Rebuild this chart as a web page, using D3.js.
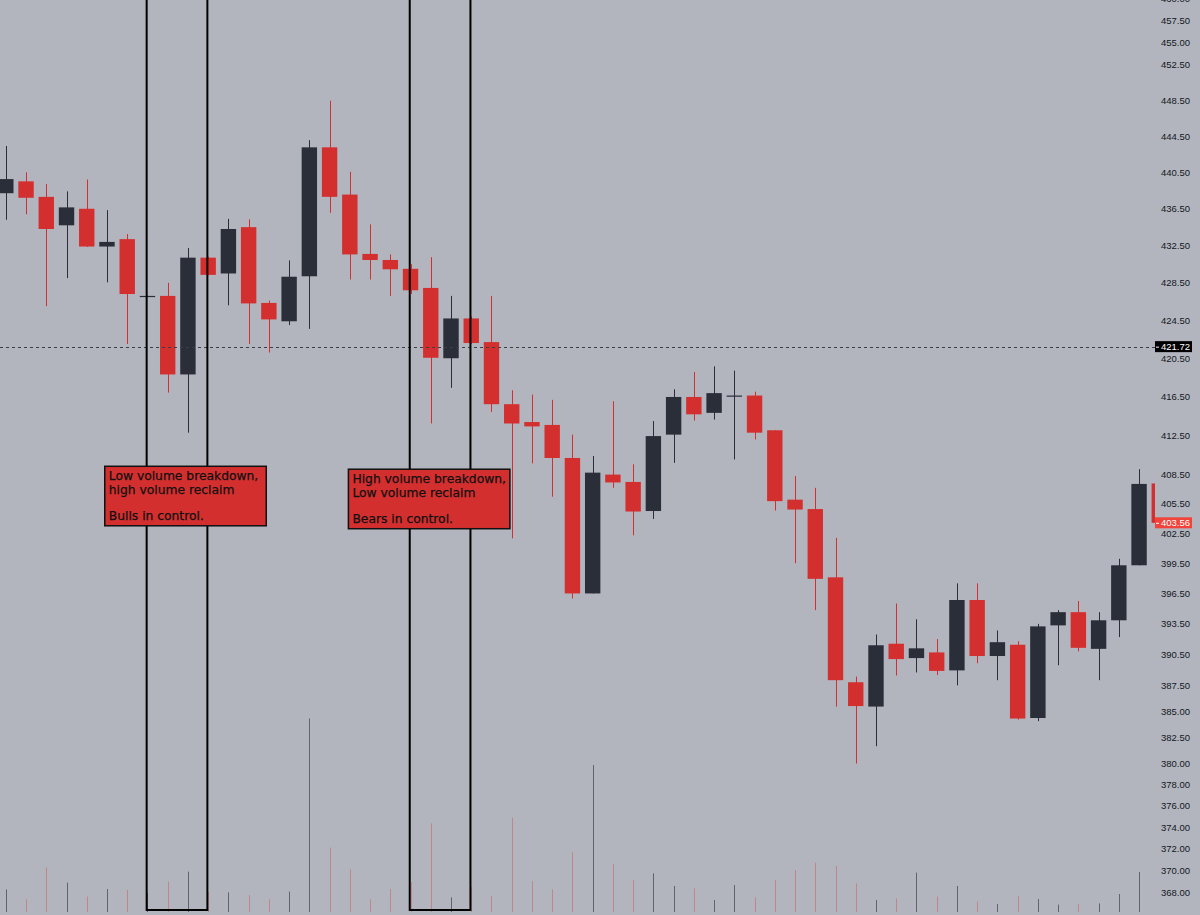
<!DOCTYPE html>
<html>
<head>
<meta charset="utf-8">
<script src="https://cdn.jsdelivr.net/npm/d3@7"></script>
<style>
  body { margin: 0; background: #b2b5be; overflow: hidden; }
  svg { display: block; }
</style>
</head>
<body>
<div id="chart"></div>
<script>
// candle data
const opens  = [438.2, 439.5, 437.8, 434.7, 436.5, 432.4, 433.2, 427.1, 427.1, 418.8,
                431.2, 429.5, 434.5, 426.35, 424.4, 429.2, 443.25, 438.05, 431.6, 430.95,
                430.0, 427.95, 420.5, 424.7, 422.2, 415.7, 413.85, 413.55, 410.15, 396.5,
                408.45, 407.7, 404.75, 412.55, 416.45, 414.8, 416.6, 416.6, 413.0, 405.9,
                404.95, 398.1, 387.8, 385.45, 391.55, 390.15, 390.7, 388.95, 395.85, 390.35,
                391.45, 384.35, 393.35, 394.65, 391.05, 393.85, 399.3, 407.55];
const highs  = [443.4, 440.5, 439.2, 438.4, 439.7, 436.35, 433.75, 427.15, 428.5, 432.25,
                431.3, 435.4, 435.35, 426.6, 430.9, 444.05, 448.45, 440.55, 434.8, 431.55,
                430.5, 431.25, 427.1, 424.9, 427.1, 417.15, 416.7, 416.15, 412.55, 410.35,
                416.0, 409.5, 413.95, 417.25, 419.05, 419.65, 419.2, 417.0, 413.0, 408.3,
                407.1, 402.05, 388.35, 392.45, 395.5, 393.95, 392.0, 397.5, 397.5, 392.85,
                391.8, 393.5, 394.85, 395.75, 394.65, 399.95, 409.0, 407.6];
const lows   = [435.3, 435.9, 426.0, 429.0, 432.35, 428.55, 422.0, 427.05, 416.9, 412.75,
                429.3, 426.1, 422.0, 421.1, 424.0, 423.6, 436.05, 428.85, 428.85, 427.1,
                427.3, 413.7, 417.4, 422.0, 414.9, 402.0, 409.6, 406.2, 396.0, 396.5,
                407.1, 402.3, 403.95, 409.65, 414.0, 414.1, 410.0, 412.05, 404.8, 399.5,
                394.85, 385.45, 380.0, 381.65, 388.45, 388.75, 388.5, 387.5, 389.65, 388.0,
                384.2, 384.05, 389.45, 390.8, 388.0, 392.2, 399.3, 403.5];
const closes = [439.75, 437.7, 434.3, 436.65, 432.4, 432.9, 427.3, 427.1, 418.8, 431.2,
                429.35, 434.3, 426.3, 424.6, 429.15, 443.25, 437.8, 431.55, 430.95, 429.95,
                427.7, 420.55, 424.7, 422.1, 415.7, 413.7, 413.4, 410.15, 396.5, 408.65,
                407.65, 404.7, 412.4, 416.45, 414.65, 416.85, 416.6, 412.75, 405.75, 404.9,
                397.95, 388.0, 385.5, 391.4, 390.05, 391.1, 388.9, 395.85, 390.35, 391.7,
                384.3, 393.25, 394.65, 391.15, 393.85, 399.3, 407.5, 403.56];
// volume, millions of shares
const volumes = [11.3, 6.3, 22.3, 14.7, 7.7, 11.5, 11, 9.5, 15.2, 20.2,
                 10, 9.8, 8.5, 6.3, 10.2, 96.8, 32.2, 21.3, 6.3, 11.5,
                 15, 44.3, 7.3, 12.5, 8, 47.2, 15.5, 11.3, 30, 73.5,
                 24, 16, 19.3, 13, 11.8, 6, 13.5, 7.3, 16, 21,
                 24.7, 23, 14.3, 6, 6.8, 19.7, 7.7, 13, 5.2, 4,
                 8, 6.5, 3.7, 4, 4.3, 9, 20, 2.5];

// price scale ticks
const priceTicks = [460, 457.5, 455, 452.5, 448.5, 444.5, 440.5, 436.5, 432.5, 428.5,
                    424.5, 420.5, 416.5, 412.5, 408.5, 405.5, 402.5, 399.5, 396.5, 393.5,
                    390.5, 387.5, 385, 382.5, 380, 378, 376, 374, 372, 370, 368];
const refPrice = 421.72;

// highlighted zones (candle index from / to)
const zoneFrom = [7, 20];
const zoneTo   = [10, 23];

// notes
const noteLines = [
  ["Low volume breakdown,", "high volume reclaim", "", "Bulls in control."],
  ["High volume breakdown,", "Low volume reclaim", "", "Bears in control."]
];
const noteIndex = [4.89, 16.93];
const notePrice = [409.3, 409.0];

const W = 1200, H = 915;
const plotRight = 1155;
const red = "#d42f2f", dark = "#2a2e39";

const svg = d3.select("#chart").append("svg")
  .attr("width", W)
  .attr("height", H);

svg.append("rect").attr("width", W).attr("height", H).attr("fill", "#b2b5be");

const x = d3.scaleLinear().domain([0, opens.length - 1]).range([5.8, 1159.3]);
const y = d3.scaleLog().domain([368, 457.5]).range([892, 20.7]);
const vy = d3.scaleLinear().domain([0, 100]).range([912, 712]);

svg.append("clipPath").attr("id", "plot")
  .append("rect").attr("x", 0).attr("y", 0).attr("width", plotRight).attr("height", H);

const plot = svg.append("g").attr("clip-path", "url(#plot)");

const candles = d3.range(opens.length).map(i => ({
  i, o: opens[i], h: highs[i], l: lows[i], c: closes[i], v: volumes[i],
  up: closes[i] >= opens[i]
}));

const cx = d => Math.round(x(d.i)) + 0.5;

// volume histogram
plot.selectAll(".vol")
  .data(candles)
  .join("line")
  .attr("class", "vol")
  .attr("x1", cx).attr("x2", cx)
  .attr("y1", vy(0))
  .attr("y2", d => vy(d.v))
  .attr("stroke", d => d.up ? "rgba(42,46,57,0.6)" : "rgba(214,47,47,0.35)")
  .attr("stroke-width", 1);

// wicks
plot.selectAll(".wick")
  .data(candles)
  .join("line")
  .attr("class", "wick")
  .attr("x1", cx).attr("x2", cx)
  .attr("y1", d => y(d.h))
  .attr("y2", d => y(d.l))
  .attr("stroke", d => d.up ? dark : red)
  .attr("stroke-width", 1);

// bodies
const bodyW = 15.4;
plot.selectAll(".body")
  .data(candles)
  .join("rect")
  .attr("class", "body")
  .attr("x", d => x(d.i) - bodyW / 2)
  .attr("width", bodyW)
  .attr("y", d => y(Math.max(d.o, d.c)))
  .attr("height", d => Math.max(1.2, y(Math.min(d.o, d.c)) - y(Math.max(d.o, d.c))))
  .attr("fill", d => d.up ? dark : red);

// reference price line
plot.append("line")
  .attr("x1", 0).attr("x2", plotRight)
  .attr("y1", Math.round(y(refPrice)) + 0.5)
  .attr("y2", Math.round(y(refPrice)) + 0.5)
  .attr("stroke", "#3b3e46")
  .attr("stroke-dasharray", "3,3")
  .attr("stroke-width", 1);

// zones
zoneFrom.forEach((f, k) => {
  svg.append("rect")
    .attr("x", x(f) - 0.8)
    .attr("y", -10)
    .attr("width", x(zoneTo[k]) - x(f))
    .attr("height", 920)
    .attr("fill", "none")
    .attr("stroke", "#000")
    .attr("stroke-width", 2);
});

// notes
noteLines.forEach((lines, k) => {
  const g = svg.append("g")
    .attr("transform", `translate(${x(noteIndex[k])},${y(notePrice[k])})`);
  g.append("rect")
    .attr("width", 161.5)
    .attr("height", 59.5)
    .attr("fill", red)
    .attr("stroke", "#111")
    .attr("stroke-width", 1.5);
  const dys = [13.6, 27.6, 0, 54.2];
  lines.forEach((t, j) => {
    if (!t) return;
    g.append("text")
      .attr("x", 4)
      .attr("y", dys[j])
      .attr("font-family", "'DejaVu Sans', Verdana, sans-serif")
      .attr("font-size", 12.3)
      .attr("fill", "#111")
      .attr("stroke", "#111")
      .attr("stroke-width", 0.25)
      .text(t);
  });
});

// price axis
const axis = d3.axisRight(y)
  .tickValues(priceTicks)
  .tickSize(0)
  .tickPadding(6)
  .tickFormat(d3.format(".2f"));

svg.append("g")
  .attr("transform", `translate(${plotRight},0)`)
  .call(axis)
  .call(g => g.select(".domain").remove())
  .call(g => g.selectAll("text")
    .attr("font-family", "'Liberation Sans', Arial, sans-serif")
    .attr("font-size", 9.5)
    .attr("fill", "#131722"));

// price labels
const lastClose = closes[closes.length - 1];
const tags = [
  {p: refPrice, bg: "#000"},
  {p: lastClose, bg: "#f0443a"}
];
tags.forEach(t => {
  const g = svg.append("g").attr("transform", `translate(${plotRight},${y(t.p)})`);
  g.append("rect").attr("x", 0).attr("y", -5.5).attr("width", 37).attr("height", 11).attr("fill", t.bg);
  g.append("line").attr("x1", 1).attr("x2", 4).attr("y1", 0.5).attr("y2", 0.5).attr("stroke", "#fff");
  g.append("text")
    .attr("x", 6)
    .attr("dy", "0.33em")
    .attr("font-family", "'Liberation Sans', Arial, sans-serif")
    .attr("font-size", 9.5)
    .attr("fill", "#fff")
    .text(d3.format(".2f")(t.p));
});
</script>
</body>
</html>
